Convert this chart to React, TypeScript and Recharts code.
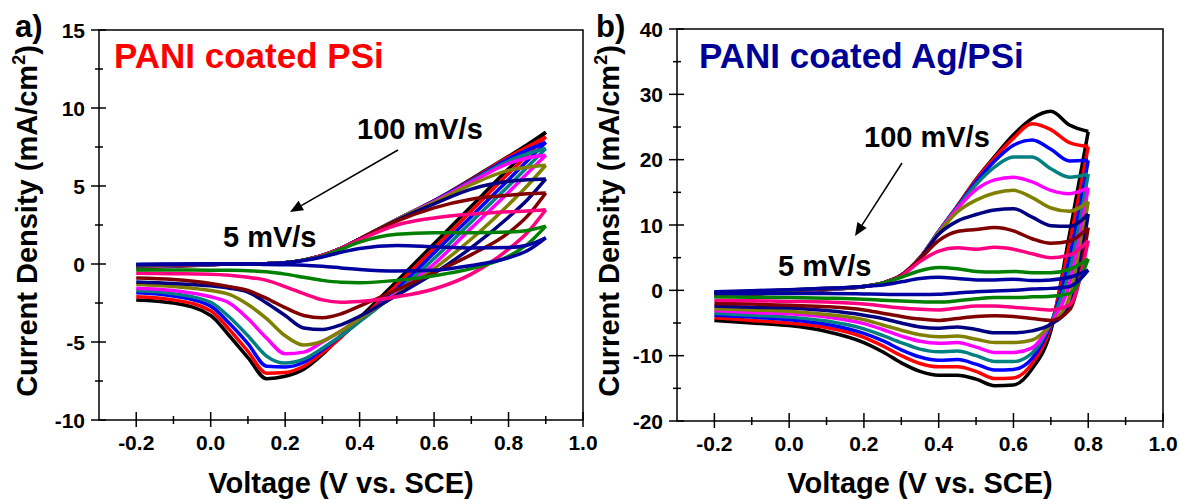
import React from 'react';
import { LineChart, Line, XAxis, YAxis, ReferenceArea } from 'recharts';

// scan rates, fastest first (drawn first, so 5 mV/s ends up on top)
const scanRates = [100, 90, 80, 70, 60, 50, 40, 30, 20, 10, 5];
const curveColors = ['#000000', '#ff0000', '#0000ff', '#008080', '#ff00ff', '#808000', '#000080', '#800000', '#ff0080', '#008000', '#0000a0'];

// ---- panel a: PANI coated PSi ----
const voltsA = [-0.2, -0.1, 0, 0.05, 0.1, 0.15, 0.2, 0.25, 0.3, 0.35, 0.4, 0.5, 0.6, 0.7, 0.8, 0.85, 0.9];
const anodicA = [
  [-0.25, -0.15, -0.05, 0, 0, 0.02, 0.08, 0.25, 0.55, 1.0, 1.6, 2.85, 4.05, 5.45, 6.9, 7.65, 8.45],
  [-0.22, -0.13, -0.05, 0, 0, 0.02, 0.08, 0.25, 0.55, 1.0, 1.6, 2.85, 4.05, 5.4, 6.85, 7.5, 8.15],
  [-0.2, -0.12, -0.04, 0, 0, 0.02, 0.08, 0.25, 0.55, 1.0, 1.6, 2.85, 4.05, 5.35, 6.75, 7.3, 7.8],
  [-0.18, -0.1, -0.03, 0, 0, 0.02, 0.08, 0.25, 0.55, 1.0, 1.6, 2.85, 4.0, 5.3, 6.6, 7.05, 7.4],
  [-0.16, -0.09, -0.02, 0, 0, 0.02, 0.08, 0.25, 0.55, 1.0, 1.6, 2.85, 4.0, 5.25, 6.45, 6.8, 6.97],
  [-0.14, -0.08, -0.02, 0, 0, 0.02, 0.08, 0.25, 0.55, 1.0, 1.6, 2.85, 3.95, 5.1, 6.0, 6.2, 6.33],
  [-0.12, -0.07, -0.01, 0, 0, 0.02, 0.08, 0.25, 0.55, 1.0, 1.6, 2.8, 3.85, 4.8, 5.3, 5.4, 5.45],
  [-0.1, -0.06, -0.01, 0, 0, 0.02, 0.08, 0.25, 0.55, 1.0, 1.6, 2.75, 3.6, 4.15, 4.4, 4.5, 4.55],
  [-0.08, -0.05, 0, 0, 0, 0.02, 0.08, 0.25, 0.55, 1.0, 1.55, 2.5, 2.95, 3.2, 3.35, 3.4, 3.48],
  [-0.06, -0.04, 0, 0, 0, 0.02, 0.08, 0.25, 0.5, 0.95, 1.4, 1.9, 2.0, 2.0, 2.05, 2.15, 2.43],
  [-0.05, -0.03, 0, 0, 0, 0.02, 0.08, 0.22, 0.45, 0.75, 1.0, 1.18, 1.1, 1.02, 1.05, 1.2, 1.68],
];
const cathodicA = [
  [-2.3, -2.5, -3.3, -4.6, -6.0, -7.35, -7.2, -6.75, -5.8, -4.6, -3.45, -1.1, 1.3, 3.7, 6.1, 7.25, 8.45],
  [-2.1, -2.3, -3.0, -4.2, -5.6, -7.0, -6.95, -6.55, -5.7, -4.7, -3.6, -1.35, 1.0, 3.4, 5.8, 6.95, 8.15],
  [-1.85, -2.05, -2.7, -3.8, -5.1, -6.55, -6.6, -6.3, -5.5, -4.6, -3.65, -1.6, 0.7, 3.05, 5.4, 6.6, 7.8],
  [-1.7, -1.9, -2.45, -3.4, -4.6, -5.9, -6.35, -6.1, -5.4, -4.6, -3.7, -1.8, 0.35, 2.7, 5.0, 6.2, 7.4],
  [-1.55, -1.7, -2.1, -2.5, -3.5, -4.75, -5.75, -5.65, -5.0, -4.3, -3.5, -1.85, 0.0, 2.3, 4.6, 5.8, 6.97],
  [-1.3, -1.45, -1.7, -1.95, -2.6, -3.5, -4.6, -5.2, -4.95, -4.3, -3.5, -1.95, -0.3, 1.6, 3.8, 5.0, 6.33],
  [-1.15, -1.25, -1.4, -1.55, -1.8, -2.5, -3.3, -4.1, -4.2, -3.9, -3.35, -2.0, -0.6, 1.05, 3.0, 4.1, 5.45],
  [-0.9, -1.0, -1.25, -1.45, -1.7, -2.2, -2.8, -3.3, -3.45, -3.2, -2.7, -1.65, -0.55, 0.6, 2.0, 3.05, 4.55],
  [-0.6, -0.62, -0.65, -0.72, -0.85, -1.05, -1.45, -1.9, -2.3, -2.45, -2.4, -2.1, -1.6, -0.65, 0.95, 2.0, 3.48],
  [-0.38, -0.38, -0.4, -0.4, -0.43, -0.5, -0.65, -0.85, -1.05, -1.17, -1.2, -1.05, -0.75, -0.3, 0.5, 1.25, 2.43],
  [-0.02, 0, 0, 0, 0, -0.03, -0.05, -0.08, -0.15, -0.25, -0.35, -0.45, -0.4, -0.1, 0.4, 0.85, 1.68],
];

// ---- panel b: PANI coated Ag/PSi ----
const voltsB = [-0.2, -0.1, 0, 0.1, 0.2, 0.25, 0.3, 0.35, 0.4, 0.45, 0.5, 0.55, 0.6, 0.65, 0.7, 0.75, 0.8];
const anodicB = [
  [-0.9, -0.6, -0.3, 0.1, 0.6, 1.1, 2.3, 5.0, 9.0, 12.9, 17.0, 20.5, 23.8, 26.3, 27.4, 25.3, 24.3],
  [-0.85, -0.55, -0.25, 0.15, 0.6, 1.1, 2.3, 5.0, 9.0, 12.9, 16.9, 20.3, 23.3, 25.5, 24.6, 22.6, 22.0],
  [-0.8, -0.5, -0.2, 0.15, 0.6, 1.1, 2.3, 5.0, 9.0, 12.8, 16.6, 19.8, 22.2, 23.0, 21.6, 19.8, 19.9],
  [-0.75, -0.45, -0.15, 0.2, 0.6, 1.1, 2.3, 5.0, 9.0, 12.7, 16.2, 18.9, 20.4, 20.4, 18.6, 17.3, 17.8],
  [-0.7, -0.4, -0.1, 0.2, 0.6, 1.1, 2.3, 5.0, 8.9, 12.5, 15.4, 16.9, 17.3, 16.6, 15.3, 14.8, 15.7],
  [-0.6, -0.35, -0.05, 0.25, 0.6, 1.1, 2.3, 5.0, 8.8, 12.0, 13.8, 14.9, 15.3, 14.2, 12.6, 12.1, 13.6],
  [-0.5, -0.3, 0.0, 0.25, 0.6, 1.1, 2.3, 4.9, 8.6, 10.6, 11.6, 12.3, 12.5, 11.2, 9.9, 9.8, 11.7],
  [-0.45, -0.25, 0.0, 0.25, 0.6, 1.1, 2.3, 4.8, 7.6, 9.0, 9.3, 9.6, 9.1, 7.9, 7.2, 7.5, 9.6],
  [-0.35, -0.2, 0.05, 0.3, 0.6, 1.1, 2.2, 4.4, 6.0, 6.5, 6.3, 6.6, 6.3, 5.6, 5.0, 5.4, 7.6],
  [-0.3, -0.15, 0.05, 0.3, 0.6, 1.1, 2.0, 3.0, 3.5, 3.3, 2.9, 2.8, 2.9, 2.7, 2.7, 3.2, 4.8],
  [-0.2, -0.05, 0.1, 0.3, 0.6, 0.8, 1.3, 1.8, 2.0, 1.8, 1.6, 1.6, 1.7, 1.5, 1.6, 2.0, 3.1],
];
const cathodicB = [
  [-4.6, -5.0, -5.4, -6.3, -8.0, -9.4, -11.1, -12.4, -13.0, -13.0, -13.6, -14.6, -14.5, -12.0, -6.2, 8.6, 24.3],
  [-4.2, -4.6, -5.0, -5.7, -7.2, -8.5, -10.0, -11.2, -11.7, -11.7, -12.4, -13.5, -13.4, -11.2, -5.5, 7.2, 22.0],
  [-3.8, -4.1, -4.5, -5.2, -6.6, -7.7, -9.1, -10.2, -10.7, -10.6, -11.3, -12.2, -12.1, -10.4, -5.2, 5.0, 19.9],
  [-3.5, -3.8, -4.1, -4.7, -5.9, -6.9, -8.0, -9.0, -9.4, -9.3, -10.0, -10.9, -10.9, -9.6, -5.0, 3.0, 17.8],
  [-3.1, -3.4, -3.6, -4.1, -5.1, -6.0, -7.0, -7.8, -8.1, -8.0, -8.7, -9.5, -9.5, -8.8, -5.0, 1.0, 15.7],
  [-2.8, -3.0, -3.2, -3.7, -4.5, -5.3, -6.1, -6.8, -7.1, -7.0, -7.5, -8.0, -8.0, -7.6, -5.2, -1.0, 13.6],
  [-2.4, -2.6, -2.7, -3.1, -3.8, -4.3, -5.0, -5.6, -5.8, -5.6, -6.0, -6.5, -6.5, -6.2, -5.2, -2.5, 11.7],
  [-2.0, -2.1, -2.3, -2.5, -3.0, -3.5, -4.0, -4.4, -4.6, -4.3, -4.0, -3.9, -4.0, -4.3, -4.6, -3.0, 9.6],
  [-1.5, -1.6, -1.7, -1.8, -2.1, -2.4, -2.7, -2.9, -3.0, -2.7, -2.4, -2.4, -2.6, -2.8, -3.0, -2.2, 7.6],
  [-1.0, -1.05, -1.1, -1.2, -1.35, -1.5, -1.65, -1.75, -1.8, -1.6, -1.3, -1.1, -1.1, -1.0, -0.9, -0.5, 4.8],
  [-0.5, -0.5, -0.5, -0.5, -0.55, -0.6, -0.65, -0.65, -0.6, -0.4, -0.2, -0.1, 0.0, 0.2, 0.3, 0.6, 3.1],
];

// ticks (major ones get a label)
const xTicks = [-0.2, -0.1, 0, 0.1, 0.2, 0.3, 0.4, 0.5, 0.6, 0.7, 0.8, 0.9, 1.0];
const xMajor = [-0.2, 0, 0.2, 0.4, 0.6, 0.8, 1.0];
const yTicksA = [-10, -7.5, -5, -2.5, 0, 2.5, 5, 7.5, 10, 12.5, 15];
const yMajorA = [-10, -5, 0, 5, 10, 15];
const yTicksB = [-20, -15, -10, -5, 0, 5, 10, 15, 20, 25, 30, 35, 40];
const yMajorB = [-20, -10, 0, 10, 20, 30, 40];

const FONT = "'Liberation Sans', Arial, Helvetica, sans-serif";

const isMajor = (list: number[], v: number) => list.some((m) => Math.abs(m - v) < 1e-6);

const XTick = (props: any) => {
  const { x, y, payload } = props;
  const major = isMajor(xMajor, payload.value);
  return (
    <g>
      <line x1={x} x2={x} y1={y - (major ? 8 : 4)} y2={y + (major ? 7 : 4)} stroke="#000" strokeWidth={1.5} />
      {major && (
        <text x={x} y={y + 30} textAnchor="middle" fontSize={21} fontWeight="bold" fontFamily={FONT} fill="#000">
          {payload.value.toFixed(1)}
        </text>
      )}
    </g>
  );
};

const makeYTick = (majors: number[]) => (props: any) => {
  const { x, y, payload } = props;
  const major = isMajor(majors, payload.value);
  return (
    <g>
      <line x1={x - (major ? 8 : 4)} x2={x + (major ? 7 : 4)} y1={y} y2={y} stroke="#000" strokeWidth={1.5} />
      {major && (
        <text x={x - 14} y={y + 7.5} textAnchor="end" fontSize={21} fontWeight="bold" fontFamily={FONT} fill="#000">
          {payload.value}
        </text>
      )}
    </g>
  );
};

const toPoints = (volts: number[], vals: number[]) => volts.map((v, i) => ({ v, j: vals[i] }));

interface PanelProps {
  volts: number[];
  anodic: number[][];
  cathodic: number[][];
  yDomain: [number, number];
  yTicks: number[];
  yMajor: number[];
  yAxisWidth: number;
  top: number;
  xAxisHeight: number;
  width: number;
  right: number;
}

const CvPanel: React.FC<PanelProps> = ({ volts, anodic, cathodic, yDomain, yTicks, yMajor, yAxisWidth, top, xAxisHeight, width, right }) => {
  const YTick = makeYTick(yMajor);
  return (
    <LineChart width={width} height={500} margin={{ top, right, left: 0, bottom: 0 }}>
      <XAxis
        dataKey="v"
        type="number"
        domain={[-0.3, 1.0]}
        allowDataOverflow
        ticks={xTicks}
        interval={0}
        tickSize={0}
        tickMargin={0}
        axisLine={false}
        tickLine={false}
        height={xAxisHeight}
        tick={(p: any) => <XTick {...p} />}
      />
      <YAxis
        type="number"
        domain={yDomain}
        allowDataOverflow
        ticks={yTicks}
        interval={0}
        tickSize={0}
        tickMargin={0}
        axisLine={false}
        tickLine={false}
        width={yAxisWidth}
        tick={(p: any) => <YTick {...p} />}
      />
      <ReferenceArea x1={-0.3} x2={1.0} y1={yDomain[0]} y2={yDomain[1]} fill="none" stroke="#000" strokeWidth={1.5} fillOpacity={0} />
      {scanRates.map((rate, i) => [
        <Line
          key={`up-${rate}`}
          data={toPoints(volts, anodic[i])}
          dataKey="j"
          type="monotone"
          stroke={curveColors[i]}
          strokeWidth={3.5}
          dot={false}
          isAnimationActive={false}
        />,
        <Line
          key={`down-${rate}`}
          data={toPoints(volts, cathodic[i])}
          dataKey="j"
          type="monotone"
          stroke={curveColors[i]}
          strokeWidth={3.5}
          dot={false}
          isAnimationActive={false}
        />,
      ])}
    </LineChart>
  );
};

const Arrow = ({ x1, y1, x2, y2 }: { x1: number; y1: number; x2: number; y2: number }) => {
  const a = Math.atan2(y2 - y1, x2 - x1);
  const len = 13;
  const half = 5.5;
  const bx = x2 - len * Math.cos(a);
  const by = y2 - len * Math.sin(a);
  const pts = [
    `${x2},${y2}`,
    `${bx + half * Math.sin(a)},${by - half * Math.cos(a)}`,
    `${bx - half * Math.sin(a)},${by + half * Math.cos(a)}`,
  ].join(' ');
  return (
    <g>
      <line x1={x1} y1={y1} x2={bx} y2={by} stroke="#000" strokeWidth={1.5} />
      <polygon points={pts} fill="#000" />
    </g>
  );
};

const txt = { fontFamily: FONT, fontWeight: 'bold' as const };

const App: React.FC = () => {
  return (
    <div style={{ position: 'absolute', left: 0, top: 0, width: 1180, height: 500, background: '#fff' }}>
      <div style={{ position: 'absolute', left: 0, top: 0 }}>
        <CvPanel
          volts={voltsA}
          anodic={anodicA}
          cathodic={cathodicA}
          yDomain={[-10, 15]}
          yTicks={yTicksA}
          yMajor={yMajorA}
          yAxisWidth={99}
          top={30}
          xAxisHeight={80}
          width={620}
          right={37}
        />
      </div>
      <div style={{ position: 'absolute', left: 590, top: 0 }}>
        <CvPanel
          volts={voltsB}
          anodic={anodicB}
          cathodic={cathodicB}
          yDomain={[-20, 40]}
          yTicks={yTicksB}
          yMajor={yMajorB}
          yAxisWidth={87}
          top={29}
          xAxisHeight={79}
          width={590}
          right={17}
        />
      </div>
      <svg width={1180} height={500} style={{ position: 'absolute', left: 0, top: 0, pointerEvents: 'none' }}>
        {/* panel a annotations */}
        <text x={15} y={37} fontSize={31} {...txt}>a)</text>
        <text x={114} y={68} fontSize={35} fill="#ff0000" {...txt}>PANI coated PSi</text>
        <text x={357} y={139} fontSize={29} {...txt}>100 mV/s</text>
        <text x={223} y={247} fontSize={29} {...txt}>5 mV/s</text>
        <Arrow x1={398} y1={150} x2={290} y2={212} />
        <text transform="translate(37,221) rotate(-90)" textAnchor="middle" fontSize={29} {...txt}>
          Current Density (mA/cm<tspan dy={-12} fontSize={18}>2</tspan>
          <tspan dy={12}>)</tspan>
        </text>
        <text x={341} y={493} textAnchor="middle" fontSize={29} {...txt}>Voltage (V vs. SCE)</text>

        {/* panel b annotations */}
        <text x={596} y={37} fontSize={31} {...txt}>b)</text>
        <text x={699} y={68} fontSize={35} fill="#000096" {...txt}>PANI coated Ag/PSi</text>
        <text x={864} y={147} fontSize={29} {...txt}>100 mV/s</text>
        <text x={778} y={276} fontSize={29} {...txt}>5 mV/s</text>
        <Arrow x1={902} y1={163} x2={855} y2={236} />
        <text transform="translate(619,221) rotate(-90)" textAnchor="middle" fontSize={29} {...txt}>
          Current Density (mA/cm<tspan dy={-12} fontSize={18}>2</tspan>
          <tspan dy={12}>)</tspan>
        </text>
        <text x={920} y={493} textAnchor="middle" fontSize={29} {...txt}>Voltage (V vs. SCE)</text>
      </svg>
    </div>
  );
};

export default App;
